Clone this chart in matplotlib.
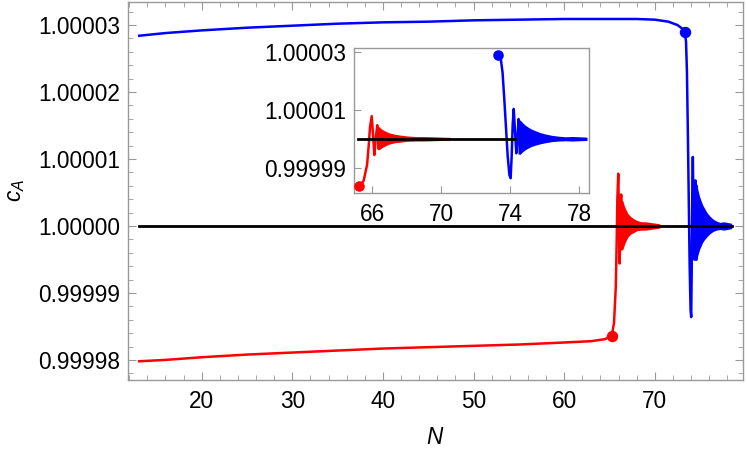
import numpy as np
import matplotlib
matplotlib.use("Agg")
import matplotlib.pyplot as plt
from matplotlib.ticker import FixedLocator, FormatStrFormatter, MultipleLocator

plt.rcParams['font.family'] = ['Liberation Sans', 'DejaVu Sans']
plt.rcParams['mathtext.fontset'] = 'custom'
plt.rcParams['mathtext.it'] = 'Liberation Sans:italic'
plt.rcParams['mathtext.rm'] = 'Liberation Sans'

# deviations from 1 are stored in units of 1e-5
SCALE = 1e-5

# blue curve: slow rise, then sharp drop and first few swings
blue_n = [13.1, 16, 20, 25, 30, 35, 40, 45, 50, 55, 60, 65, 68, 70, 71.5, 72.5,
          73.0, 73.3, 73.45, 73.55, 73.65, 73.75, 73.85, 73.95, 74.02, 74.08,
          74.14, 74.2, 74.27, 74.35, 74.42, 74.48, 74.55]
blue_d = [2.84, 2.88, 2.92, 2.96, 2.99, 3.02, 3.04, 3.05, 3.07, 3.08, 3.09, 3.09,
          3.09, 3.08, 3.05, 3.00, 2.95, 2.90, 2.75, 2.3, 1.4, 0.4, -0.6, -1.25,
          -1.36, -0.6, 0.5, 1.03, 0.3, -0.5, 0.1, 0.68, -0.5]

# blue dense oscillation envelope
blue_env_n = [74.55, 74.7, 74.85, 75.0, 75.2, 75.4, 75.7, 76.0, 76.4, 76.8, 77.2,
              77.6, 78.0, 78.4]
blue_env_hi = [0.62, 0.52, 0.44, 0.38, 0.31, 0.26, 0.19, 0.14, 0.09, 0.06, 0.04,
               0.05, 0.04, 0.03]
blue_env_lo = [-0.50, -0.42, -0.35, -0.30, -0.24, -0.20, -0.15, -0.11, -0.07,
               -0.05, -0.04, -0.05, -0.04, -0.03]

# red curve: slow rise, then sharp jump and first swings
red_n = [13.1, 16, 20, 25, 30, 35, 40, 45, 50, 55, 60, 63, 64.5, 65.25, 65.5,
         65.7, 65.8, 65.87, 65.97, 66.05, 66.12, 66.2, 66.29, 66.37, 66.4]
red_d = [-2.02, -2.00, -1.96, -1.92, -1.89, -1.86, -1.83, -1.81, -1.79, -1.77,
         -1.74, -1.72, -1.69, -1.64, -1.45, -0.9, -0.2, 0.4, 0.78, 0.1, -0.56,
         0.0, 0.47, -0.35, 0.35]

# red dense oscillation envelope
red_env_n = [66.4, 66.6, 66.8, 67.0, 67.3, 67.6, 68.0, 68.5, 69.0, 69.5, 70.0,
             70.5]
red_env_hi = [0.36, 0.28, 0.22, 0.17, 0.13, 0.10, 0.07, 0.05, 0.05, 0.04, 0.03,
              0.02]
red_env_lo = [-0.34, -0.26, -0.20, -0.15, -0.11, -0.09, -0.06, -0.05, -0.05,
              -0.04, -0.03, -0.02]

# marked points
blue_dot = (73.3, 2.90)
red_dot = (65.25, -1.64)

# reference line c_A = 1
ref_n_main = [13.1, 78.5]
ref_n_inset = [65.2, 74.3]

main_yticks = [-2, -1, 0, 1, 2, 3]
inset_yticks = [-1, 1, 3]
inset_xticks = [66, 70, 74, 78]

FRAME = '#999999'
FS = 16.3


def to_c(d):
    return 1 + np.asarray(d) * SCALE


def after(ns, ds, start):
    keep = [(n, d) for n, d in zip(ns, ds) if n >= start]
    return [k[0] for k in keep], [k[1] for k in keep]


def draw(ax, ref_n, ms, inset=False):
    bn, bd = blue_n, blue_d
    rn, rd = red_n, red_d
    if inset:
        bn, bd = after(blue_n, blue_d, blue_dot[0])
        rn, rd = after(red_n, red_d, red_dot[0])
    ax.plot(bn, to_c(bd), color='blue', lw=1.8, zorder=3)
    ax.fill_between(blue_env_n, to_c(blue_env_hi), to_c(blue_env_lo),
                    color='blue', lw=1.2, zorder=3)
    ax.plot(rn, to_c(rd), color='red', lw=1.8, zorder=3)
    ax.fill_between(red_env_n, to_c(red_env_hi), to_c(red_env_lo),
                    color='red', lw=1.2, zorder=3)
    ax.plot(ref_n, to_c([0, 0]), color='black', lw=2, zorder=4)
    ax.plot([blue_dot[0]], to_c([blue_dot[1]]), 'o', color='blue', ms=ms, zorder=5)
    ax.plot([red_dot[0]], to_c([red_dot[1]]), 'o', color='red', ms=ms, zorder=5)
    for s in ax.spines.values():
        s.set_color(FRAME)
        s.set_linewidth(1)


fig = plt.figure(figsize=(7.47, 4.51), dpi=100)
ax = fig.add_axes([0.1718, 0.1574, 0.9942 - 0.1718, 0.9962 - 0.1574])
draw(ax, ref_n_main, 7.2)
ax.set_xlim(11.9, 79.7)
ax.set_ylim(to_c(-2.30), to_c(3.348))
ax.xaxis.set_major_locator(MultipleLocator(10))
ax.xaxis.set_minor_locator(MultipleLocator(2))
ax.yaxis.set_major_locator(FixedLocator(to_c(main_yticks)))
ax.yaxis.set_minor_locator(FixedLocator(to_c(np.arange(-2.4, 3.5, 0.2))))
ax.yaxis.set_major_formatter(FormatStrFormatter('%.5f'))
ax.tick_params(which='both', direction='in', color=FRAME, top=True, right=True,
               labelsize=FS, labelcolor='black')
ax.tick_params(which='major', length=6)
ax.tick_params(which='minor', length=3.5)
ax.tick_params(axis='x', pad=7)
ax.tick_params(axis='y', pad=6)
ax.set_xlabel('$N$', fontsize=FS, va='center')
ax.xaxis.set_label_coords(0.5, -0.1507)
ax.set_ylabel('$c_A$', fontsize=FS, va='center')
ax.yaxis.set_label_coords(-0.1844, 0.5)

ins = fig.add_axes([0.4743, 0.5714, 0.7889 - 0.4743, 0.8942 - 0.5714])
ins.set_facecolor('white')
draw(ins, ref_n_inset, 6.6, inset=True)
ins.set_xlim(64.96, 78.58)
ins.set_ylim(to_c(-1.88), to_c(3.14))
ins.xaxis.set_major_locator(FixedLocator(inset_xticks))
ins.yaxis.set_major_locator(FixedLocator(to_c(inset_yticks)))
ins.yaxis.set_major_formatter(FormatStrFormatter('%.5f'))
ins.tick_params(which='both', direction='in', color=FRAME, length=5,
                labelsize=FS, labelcolor='black')
ins.tick_params(axis='x', pad=7)
ins.tick_params(axis='y', pad=6)

fig.savefig('out.png', dpi=100)
